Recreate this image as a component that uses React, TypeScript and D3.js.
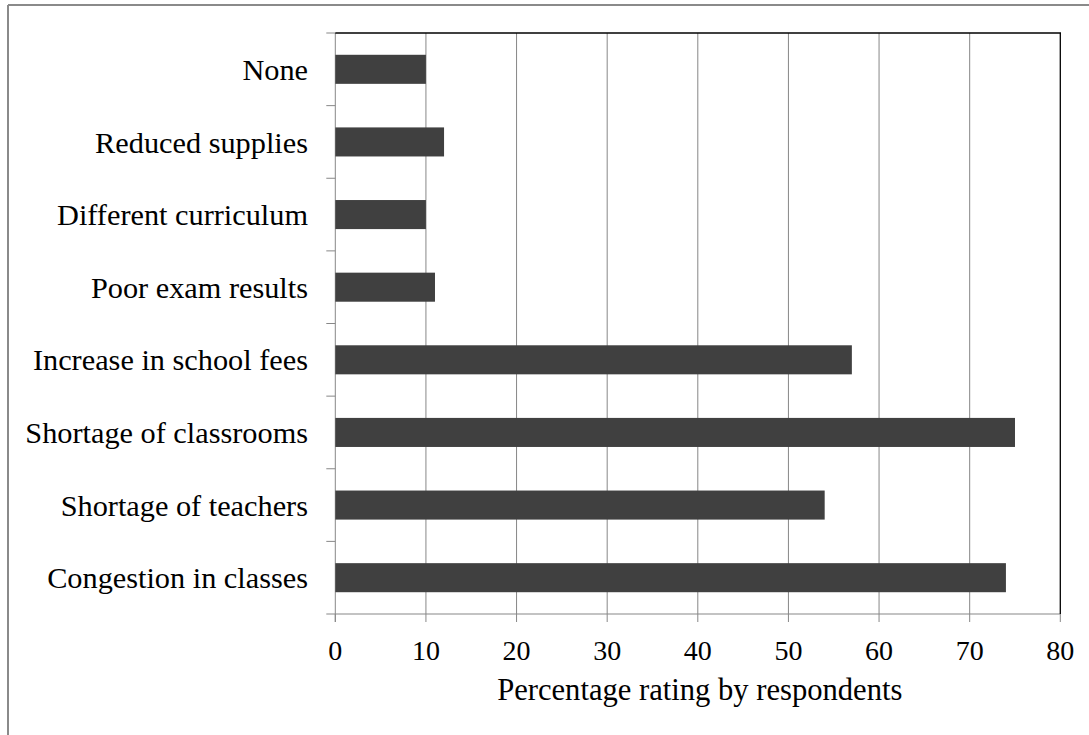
import React from "react";
import * as d3 from "d3";

const categories = [
  "None",
  "Reduced supplies",
  "Different curriculum",
  "Poor exam results",
  "Increase in school fees",
  "Shortage of classrooms",
  "Shortage of teachers",
  "Congestion in classes",
];
const values = [10, 12, 10, 11, 57, 75, 54, 74];
const xTicks = [0, 10, 20, 30, 40, 50, 60, 70, 80];
const xTitle = "Percentage rating by respondents";

const W = 1089;
const H = 735;
const left = 335.3;
const right = 1060.3;
const top = 33;
const bottom = 614;
const font = "'Liberation Serif', 'Times New Roman', serif";
const gray = "#878787";

export default function App() {
  const x = d3.scaleLinear().domain([0, 80]).range([left, right]);
  const y = d3
    .scaleBand<string>()
    .domain(categories)
    .range([top, bottom])
    .paddingInner(0.6)
    .paddingOuter(0.3);
  const step = y.step();
  const boundaries = d3.range(categories.length + 1).map((i) => top + i * step);

  return (
    <svg
      width={W}
      height={H}
      style={{ position: "absolute", left: 0, top: 0, background: "#fff" }}
    >
      <rect x={0} y={0} width={W} height={H} fill="#fff" />
      {/* outer frame */}
      <line x1={8} y1={5} x2={W} y2={5} stroke="#8a8a8a" strokeWidth={2} />
      <line x1={8} y1={5} x2={8} y2={H} stroke="#8a8a8a" strokeWidth={2} />

      {/* gridlines + x ticks */}
      {xTicks.map((t) => (
        <line
          key={"g" + t}
          x1={x(t)}
          x2={x(t)}
          y1={t === 0 || t === 80 ? bottom : top}
          y2={bottom + 8}
          stroke={gray}
          strokeWidth={1}
        />
      ))}
      {/* left axis */}
      <line x1={left} x2={left} y1={top} y2={bottom + 8} stroke={gray} strokeWidth={1} />
      {boundaries.map((b, i) => (
        <line key={"yt" + i} x1={left - 9} x2={left} y1={b} y2={b} stroke={gray} strokeWidth={1} />
      ))}
      {/* bottom axis */}
      <line x1={left} x2={right} y1={bottom} y2={bottom} stroke={gray} strokeWidth={1} />
      {/* top and right black border */}
      <line x1={left} x2={right + 0.7} y1={top} y2={top} stroke="#000" strokeWidth={1.6} />
      <line x1={right} x2={right} y1={top} y2={bottom} stroke="#000" strokeWidth={1.3} />

      {/* bars */}
      {categories.map((c, i) => (
        <rect
          key={c}
          x={x(0)}
          y={y(c)!}
          width={x(values[i]) - x(0)}
          height={y.bandwidth()}
          fill="#404040"
        />
      ))}

      {/* category labels */}
      {categories.map((c) => (
        <text
          key={"l" + c}
          x={308}
          y={y(c)! + y.bandwidth() / 2}
          dy="0.35em"
          textAnchor="end"
          fontFamily={font}
          fontSize={30.3}
          fill="#000"
        >
          {c}
        </text>
      ))}

      {/* x tick labels */}
      {xTicks.map((t) => (
        <text
          key={"xl" + t}
          x={x(t)}
          y={660}
          textAnchor="middle"
          fontFamily={font}
          fontSize={28}
          fill="#000"
        >
          {t}
        </text>
      ))}
      <text
        x={(left + right) / 2 + 2}
        y={700}
        textAnchor="middle"
        fontFamily={font}
        fontSize={30.6}
        fill="#000"
      >
        {xTitle}
      </text>
    </svg>
  );
}
